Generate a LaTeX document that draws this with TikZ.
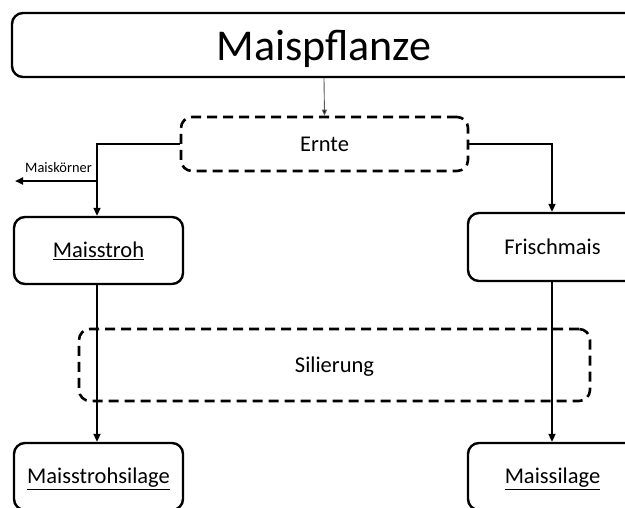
\documentclass[tikz,border=0pt]{standalone}
\usepackage{fontspec}
\setmainfont{Carlito}
\usetikzlibrary{arrows.meta}
\begin{document}
\begin{tikzpicture}[x=1pt,y=-1pt,
  solidbox/.style={draw=black,line width=2.4pt,rounded corners=11pt,inner sep=0pt,align=center},
  dashbox/.style={draw=black,line width=2.6pt,dash pattern=on 10pt off 6pt,rounded corners=11pt,inner sep=0pt,align=center},
  flow/.style={line width=2.2pt,-{Triangle[length=8pt,width=7pt]}},
  thinflow/.style={line width=0.9pt,draw=black!65,-{Triangle[length=6pt,width=5pt,fill=black]}},
  midtxt/.style={font=\fontsize{22.5}{26}\selectfont,text height=14pt,text depth=0pt},
]
\useasboundingbox (0,0) rectangle (625,507);
\clip (0,0) rectangle (625,507);
\fill[white] (0,0) rectangle (625,507);

\node[solidbox,minimum width=624pt,minimum height=64pt,font=\fontsize{44}{50}\selectfont,text height=30pt,text depth=0pt] (pf) at (324,45) {Maispflanze};
\node[dashbox,minimum width=287pt,minimum height=54pt,midtxt] (ernte) at (324.5,144) {Ernte};
\node[solidbox,minimum width=169pt,minimum height=67pt,midtxt] (stroh) at (98.5,250.5) {\underline{Maisstroh}};
\node[solidbox,minimum width=169pt,minimum height=68pt,midtxt] (frisch) at (552.5,247) {Frischmais};
\node[dashbox,minimum width=511pt,minimum height=72pt,midtxt] (sil) at (334.5,365) {Silierung};
\node[solidbox,minimum width=169pt,minimum height=67pt,midtxt] (strohsil) at (98.5,476.5) {\underline{Maisstrohsilage}};
\node[solidbox,minimum width=169pt,minimum height=67pt,midtxt] (maissil) at (552.5,476.5) {\underline{Maissilage}};

\coordinate (lx) at (97,144);
\coordinate (br) at (97,181);
\coordinate (kend) at (15,181);
\coordinate (rx) at (552,144);

\draw[thinflow] (pf.south) -- (ernte.north);
\draw[flow] (ernte.west) -- (lx) -- (stroh.north -| lx);
\draw[flow] (br) -- (kend);
\node[font=\fontsize{14.4}{16}\selectfont,anchor=base,inner sep=0pt] (mk) at (58.5,172) {Maiskörner};
\draw[flow] (ernte.east) -- (rx) -- (frisch.north -| rx);
\draw[flow] (stroh.south -| lx) -- (strohsil.north -| lx);
\draw[flow] (frisch.south -| rx) -- (maissil.north -| rx);
\end{tikzpicture}
\end{document}
